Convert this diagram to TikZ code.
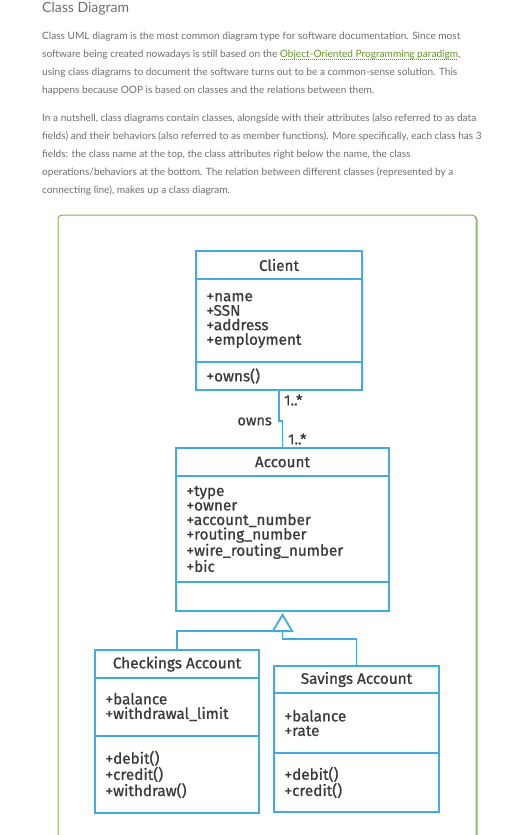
\documentclass[tikz,border=0pt]{standalone}
\usepackage{fontspec}
\setmainfont{Lato}
\newfontfamily\umlfont[FakeBold=0.8]{Fira Sans}
\usetikzlibrary{arrows.meta, positioning, calc}

\definecolor{umlblue}{RGB}{66,170,222}
\definecolor{umltext}{RGB}{58,58,62}
\definecolor{framegreen}{RGB}{128,180,70}
\definecolor{framegray}{RGB}{150,150,140}
\definecolor{bodygray}{RGB}{110,110,110}
\definecolor{linkgreen}{RGB}{98,150,40}

% dotted underline for the link
\newcommand{\dotlink}[1]{\setbox0\hbox{#1}%
    \rlap{\raisebox{-2.4pt}{\hbox to \wd0{\leaders\hbox to 2pt{\vrule width 1pt height 0.8pt\hss}\hfill}}}#1}

\begin{document}
\begin{tikzpicture}[
    x=1pt, y=-1pt,
    headline/.style={inner sep=0pt, text=bodygray, font=\fontsize{14}{16}\selectfont},
    bodytext/.style={inner sep=0pt, text=bodygray, align=left, font=\fontsize{10.1}{17.9}\selectfont},
    umlbox/.style={draw=umlblue, line width=1.8pt, outer sep=0pt, inner sep=0pt, text=umltext, font=\umlfont\fontsize{15.3}{14.5}\selectfont},
    umlhead/.style 2 args={umlbox, minimum width=#1, minimum height=#2},
    umlfields/.style n args={3}{umlbox, minimum width=#1, text width=#2, minimum height=#3, inner xsep=10.5pt, align=left},
    umllabel/.style={inner sep=0pt, text=umltext, font=\umlfont\fontsize{14.6}{14}\selectfont},
    umlline/.style={draw=umlblue, line width=1.8pt},
    gen/.style={umlline, -{Triangle[open, length=19pt, width=22pt]}}
]
    \clip (0,0) rectangle (519,835);

    % Text above the frame
    \node[headline, anchor=west] (title) at (42,8.5) {Class Diagram};
    \node[bodytext, anchor=north west] (para1) at (42,32) {Class UML diagram is the most common diagram type for software documentation. Since most\\
        software being created nowadays is still based on the \textcolor{linkgreen}{\dotlink{Object-Oriented Programming paradigm}},\\
        using class diagrams to document the software turns out to be a common-sense solution. This\\
        happens because OOP is based on classes and the relations between them.};
    \node[bodytext, anchor=north west] (para2) at (42,113.5) {In a nutshell, class diagrams contain classes, alongside with their attributes (also referred to as data\\
        fields) and their behaviors (also referred to as member functions). More specifically, each class has 3\\
        fields: the class name at the top, the class attributes right below the name, the class\\
        operations/behaviors at the bottom. The relation between different classes (represented by a\\
        connecting line), makes up a class diagram.};

    % Frame
    \draw[framegray, line width=1pt, rounded corners=4pt] (59.5,216) rectangle (477,860);
    \draw[framegreen, line width=1pt, rounded corners=4pt, fill=white] (58,215) rectangle (476,860);

    % Client
    \node[umlhead={166pt}{28pt}, anchor=north west] (client) at (196,251) {Client};
    \node[umlfields={166pt}{145pt}{83pt}, below=0pt of client] (client-attr) {+name\\+SSN\\+address\\+employment};
    \node[umlfields={166pt}{145pt}{28pt}, below=0pt of client-attr] (client-ops) {+owns()};

    % Account
    \node[umlhead={213pt}{28pt}, anchor=north west] (account) at (176,448) {Account};
    \node[umlfields={213pt}{192pt}{106pt}, below=0pt of account] (account-attr) {+type\\+owner\\+account\_number\\+routing\_number\\+wire\_routing\_number\\+bic};
    \node[umlfields={213pt}{192pt}{29pt}, below=0pt of account-attr] (account-ops) {};

    % Checkings Account
    \node[umlhead={164pt}{28pt}, anchor=north west] (checkings) at (95,650) {Checkings Account};
    \node[umlfields={164pt}{143pt}{58pt}, below=0pt of checkings] (checkings-attr) {+balance\\+withdrawal\_limit};
    \node[umlfields={164pt}{143pt}{77pt}, below=0pt of checkings-attr] (checkings-ops) {+debit()\\+credit()\\+withdraw()};

    % Savings Account
    \node[umlhead={165pt}{27pt}, anchor=north west] (savings) at (274,666) {Savings Account};
    \node[umlfields={165pt}{144pt}{60pt}, below=0pt of savings] (savings-attr) {+balance\\+rate};
    \node[umlfields={165pt}{144pt}{59pt}, below=0pt of savings-attr] (savings-ops) {+debit()\\+credit()};

    % Association
    \draw[umlline] (client-ops.south) -- ++(0,31) -| (account.north);
    \node[umllabel, anchor=west] (mult-client) at ($(client-ops.south)+(5,10)$) {1..*};
    \node[umllabel, anchor=east] (owns) at ($(client-ops.south)+(-7,31.5)$) {owns};
    \node[umllabel, anchor=west] (mult-account) at ($(account.north)+(5.5,-9)$) {1..*};

    % Generalization
    \coordinate (gen-left) at ($(account-ops.south)+(-10.5,20)$);
    \draw[gen] (savings.north) |- ($(account-ops.south)+(0,28)$) -- ($(account-ops.south)+(0,2)$);
    \draw[umlline] (checkings.north) |- (gen-left);
\end{tikzpicture}
\end{document}
